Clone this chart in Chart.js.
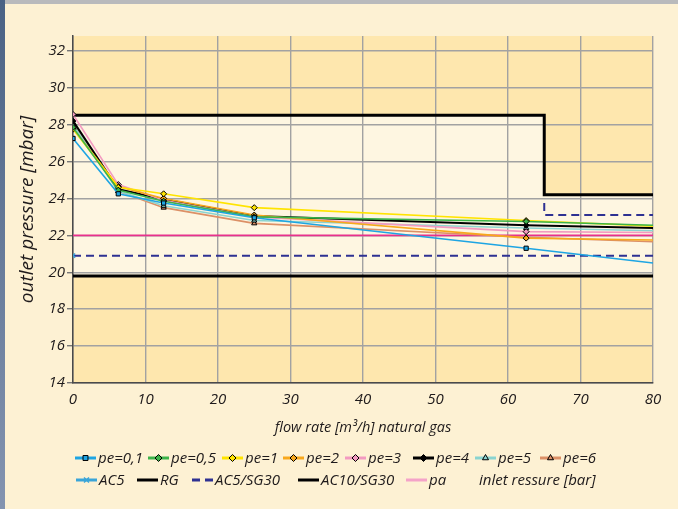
<!DOCTYPE html>
<html>
<head>
<meta charset="utf-8">
<script src="https://cdn.jsdelivr.net/npm/chart.js@4.4.1/dist/chart.umd.min.js"></script>
<style>
  html, body { margin: 0; padding: 0; background: #fdf1d3; }
  #wrap { position: relative; width: 678px; height: 509px; }
</style>
</head>
<body>
<div id="wrap"><canvas id="chart"></canvas></div>
<script>
// flow rate points (m3/h) where the pe curves were measured
const flow = [0, 6.25, 12.5, 25, 62.5, 80];

// outlet pressure (mbar) per inlet pressure pe (bar)
const pe01 = [27.25, 24.25, 23.75, 22.95, 21.3, 20.5];
const pe05 = [27.85, 24.45, 23.85, 23.0, 22.75, 22.55];
const pe1  = [27.75, 24.6, 24.25, 23.5, 22.8, 22.5];
const pe2  = [27.8, 24.65, 24.0, 23.1, 21.85, 21.75];
const pe3  = [28.55, 24.75, 23.9, 23.0, 22.2, 22.15];
const pe4  = [28.2, 24.5, 23.95, 23.05, 22.55, 22.4];
const pe5  = [28.0, 24.4, 23.6, 22.8, 22.4, 22.25];
const pe6  = [28.1, 24.4, 23.5, 22.65, 21.9, 21.65];

// limit lines
const rgFlow = [0, 65, 65, 80];
const rgOut = [28.5, 28.5, 24.2, 24.2];
const sg5Flow = [0, 80, 80, 65, 65, 80];
const sg5Out = [20.9, 20.9, null, 23.75, 23.1, 23.1];
const sg10Flow = [0, 80];
const sg10Out = [19.8, 19.8];
const paFlow = [0, 80];
const paOut = [22.0, 22.0];
const ac5Flow = [0];
const ac5Out = [20.9];

const xTicks = [0, 10, 20, 30, 40, 50, 60, 70, 80];
const yTicks = [14, 16, 18, 20, 22, 24, 26, 28, 30, 32];

const FONT = "'Open Sans', 'DejaVu Sans', sans-serif";
const INK = '#1e1a1b';

function pts(xs, ys) {
  return xs.map((v, i) => ({ x: v, y: ys[i] }));
}

function peSet(label, ys, color, style, width) {
  return {
    label: label,
    data: pts(flow, ys),
    borderColor: color,
    backgroundColor: color,
    borderWidth: width || 1.6,
    pointStyle: style,
    pointBackgroundColor: color,
    pointBorderColor: '#000',
    pointBorderWidth: 1,
    pointRadius: (c) => (c.dataIndex < flow.length - 1 ? 3 : 0),
    tension: 0
  };
}

const datasets = [
  peSet('pe=0,1', pe01, '#1ea5e3', 'rect'),
  peSet('pe=0,5', pe05, '#3cb44a', 'rectRot'),
  peSet('pe=1', pe1, '#ffe400', 'rectRot'),
  peSet('pe=2', pe2, '#f8a81c', 'rectRot'),
  peSet('pe=3', pe3, '#f39ac0', 'rectRot'),
  peSet('pe=4', pe4, '#000000', 'rectRot', 2),
  peSet('pe=5', pe5, '#8ad4d0', 'triangle'),
  peSet('pe=6', pe6, '#dc9066', 'triangle'),
  {
    label: 'AC5', data: pts(ac5Flow, ac5Out),
    borderColor: '#3aa5d8', backgroundColor: '#3aa5d8',
    pointStyle: 'crossRot', pointRadius: 3, pointBorderWidth: 1.5, showLine: false
  },
  {
    label: 'RG', data: pts(rgFlow, rgOut),
    borderColor: '#000', borderWidth: 3, pointRadius: 0, tension: 0
  },
  {
    label: 'AC5/SG30', data: pts(sg5Flow, sg5Out),
    borderColor: '#2e3192', borderWidth: 2, borderDash: [8, 5], pointRadius: 0, spanGaps: false
  },
  {
    label: 'AC10/SG30', data: pts(sg10Flow, sg10Out),
    borderColor: '#000', borderWidth: 3, pointRadius: 0
  },
  {
    label: 'pa', data: pts(paFlow, paOut),
    borderColor: '#e8308c', borderWidth: 1.8, pointRadius: 0,
    legendColor: '#f4a3c8'
  }
];

// page + plot zones painted behind the grid
const zoneFill = {
  id: 'zoneFill',
  beforeDraw(chart) {
    const { ctx, chartArea: a, scales: { x, y } } = chart;
    ctx.save();
    ctx.fillStyle = '#fdf1d3';
    ctx.fillRect(0, 0, chart.width, chart.height);
    ctx.fillStyle = '#b9babc';
    ctx.fillRect(0, 0, chart.width, 4);
    const g = ctx.createLinearGradient(0, 0, 0, chart.height);
    g.addColorStop(0, '#4a6284');
    g.addColorStop(1, '#8494b0');
    ctx.fillStyle = g;
    ctx.fillRect(0, 0, 5, chart.height);

    ctx.fillStyle = '#fee7ae';
    ctx.fillRect(a.left, a.top, a.right - a.left, a.bottom - a.top);
    ctx.beginPath();
    rgFlow.forEach((f, i) => {
      const px = x.getPixelForValue(f), py = y.getPixelForValue(rgOut[i]);
      if (i === 0) ctx.moveTo(px, py); else ctx.lineTo(px, py);
    });
    ctx.lineTo(x.getPixelForValue(sg10Flow[1]), y.getPixelForValue(sg10Out[1]));
    ctx.lineTo(x.getPixelForValue(sg10Flow[0]), y.getPixelForValue(sg10Out[0]));
    ctx.closePath();
    ctx.fillStyle = '#fef6e1';
    ctx.fill();
    ctx.restore();
  }
};

// two-row legend, line sample with the marker on it
const legendRow1X = [75, 148, 222, 283, 345, 413, 475, 540];
const legendRow2X = [76, 137, 192, 298, 406];
const legendNote = 'inlet ressure [bar]';

function drawMark(ctx, ds, cx, cy) {
  if (!ds.pointStyle) return;
  ctx.save();
  ctx.fillStyle = ds.pointBackgroundColor || ds.borderColor;
  ctx.strokeStyle = ds.pointBorderColor || ds.borderColor;
  ctx.lineWidth = ds.pointBorderWidth || 1;
  Chart.helpers.drawPoint(ctx, {
    pointStyle: ds.pointStyle, radius: 3.5, rotation: 0, borderWidth: ctx.lineWidth
  }, cx, cy);
  ctx.restore();
}

const twoRowLegend = {
  id: 'twoRowLegend',
  afterDraw(chart) {
    const ctx = chart.ctx;
    const sets = chart.data.datasets;
    ctx.save();
    ctx.font = 'italic 15px ' + FONT;
    ctx.fillStyle = INK;
    ctx.textBaseline = 'middle';
    const place = (ds, x0, yy) => {
      ctx.save();
      ctx.strokeStyle = ds.legendColor || ds.borderColor;
      ctx.lineWidth = 3;
      if (ds.borderDash) ctx.setLineDash([8, 5]);
      ctx.beginPath();
      ctx.moveTo(x0, yy);
      ctx.lineTo(x0 + 21, yy);
      ctx.stroke();
      ctx.restore();
      drawMark(ctx, ds, x0 + 10.5, yy);
      ctx.fillStyle = INK;
      ctx.fillText(ds.label, x0 + 23, yy + 1);
    };
    legendRow1X.forEach((x0, i) => place(sets[i], x0, 458));
    legendRow2X.forEach((x0, i) => place(sets[8 + i], x0, 480));
    ctx.fillText(legendNote, 479, 481);
    ctx.restore();
  }
};

new Chart(document.getElementById('chart'), {
  type: 'line',
  data: { datasets: datasets },
  plugins: [zoneFill, twoRowLegend],
  options: {
    responsive: true,
    maintainAspectRatio: false,
    animation: false,
    layout: { padding: { top: 36, right: 25, bottom: 71, left: 0 } },
    plugins: {
      legend: { display: false },
      tooltip: { enabled: false }
    },
    scales: {
      x: {
        type: 'linear',
        min: 0,
        max: 80,
        afterBuildTicks: (s) => { s.ticks = xTicks.map(v => ({ value: v })); },
        afterFit: (s) => { s.height = 55; },
        border: { color: '#4a4a4a', width: 1.5 },
        grid: { color: '#a2a2a2', lineWidth: 1.4, drawTicks: false },
        ticks: { padding: 8, color: INK, font: { family: FONT, size: 15, style: 'italic' } },
        title: {
          display: true,
          text: 'flow rate [m³/h] natural gas',
          color: INK,
          padding: { top: 0, bottom: 1 },
          font: { family: FONT, size: 14.5, style: 'italic' }
        }
      },
      y: {
        min: 14,
        max: 32.8,
        afterBuildTicks: (s) => { s.ticks = yTicks.map(v => ({ value: v })); },
        afterFit: (s) => { s.width = 73; },
        border: { color: '#4a4a4a', width: 1.5 },
        grid: { color: '#a2a2a2', lineWidth: 1.4, tickLength: 6, tickColor: '#777' },
        ticks: { padding: 2, color: INK, font: { family: FONT, size: 15, style: 'italic' } },
        title: {
          display: true,
          text: 'outlet pressure [mbar]',
          color: INK,
          padding: { top: 16, bottom: 0 },
          font: { family: FONT, size: 19, style: 'italic' }
        }
      }
    }
  }
});
</script>
</body>
</html>
